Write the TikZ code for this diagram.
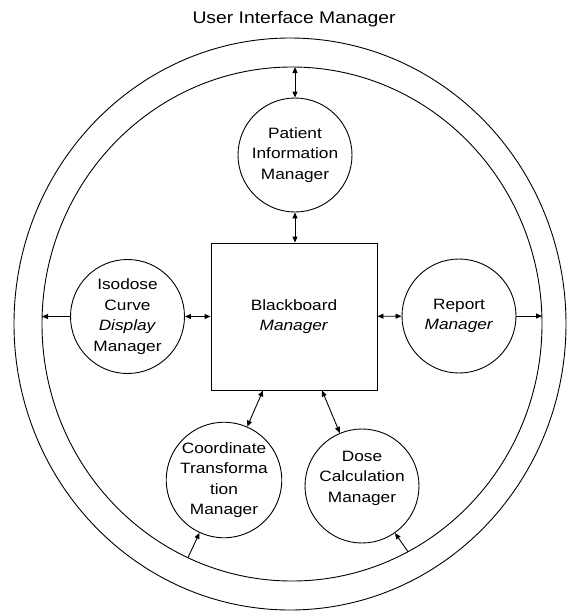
\documentclass[tikz,border=0pt]{standalone}
\usepackage{fontspec}
\setmainfont{Liberation Sans}[FakeStretch=1.15]
\usetikzlibrary{arrows.meta,shapes.geometric}

\begin{document}
\begin{tikzpicture}[x=1pt,y=-1pt,line width=.9pt,
    txt/.style={align=center,font=\fontsize{15}{20.5}\selectfont},
    mgr/.style={draw,circle,minimum size=114pt,inner sep=0pt,txt},
    ring/.style={draw,ellipse,inner sep=0pt,outer sep=0pt},
    tip/.style={-{Triangle[length=6pt,width=5pt]}},
    tips/.style={{Triangle[length=6pt,width=5pt]}-{Triangle[length=6pt,width=5pt]}}]
  \useasboundingbox (0,0) rectangle (567,611);
  \node[font=\fontsize{16.8}{20}\selectfont] (title) at (294,19.5) {User Interface Manager};
  \node[ring,minimum width=552pt,minimum height=572pt] (outer) at (290,324) {};
  \node[ring,minimum width=500pt,minimum height=514pt] (uim) at (292,324) {};
  %
  \node[draw,minimum width=166pt,minimum height=147pt,txt] (bb) at (294,316.5)
       {Blackboard\\\textit{Manager}};
  \node[mgr] (pim) at (295,155) {Patient\\Information\\Manager};
  \node[mgr] (idm) at (127.5,316.5) {Isodose\\Curve\\\textit{Display}\\Manager};
  \node[mgr] (rm) at (459,316) {Report\\\textit{Manager}};
  \node[mgr] (ctm) at (224,480) {Coordinate\\Transforma\\tion\\Manager};
  \node[mgr] (dcm) at (362,486) {};
  \node[txt] (dcmtext) at ([yshift=8pt]dcm.center) {Dose\\Calculation\\Manager};
  %
  \draw[tips] (pim.north) -- (pim.north |- uim.north);
  \draw[tips] (pim.south) -- (pim.south |- bb.north);
  \draw[tips] (idm) -- (bb);
  \draw[tips] (bb) -- (rm);
  \draw[tip] (idm.west) -- (idm.west -| uim.west);
  \draw[tip] (rm.east) -- (rm.east -| uim.east);
  \draw[tips] ([xshift=-31pt]bb.south) -- (ctm);
  \draw[tips] ([xshift=28pt]bb.south) -- (dcm);
  \draw[tip] (uim.246) -- (ctm);
  \draw[tip] (uim.297) -- (dcm);
\end{tikzpicture}
\end{document}
